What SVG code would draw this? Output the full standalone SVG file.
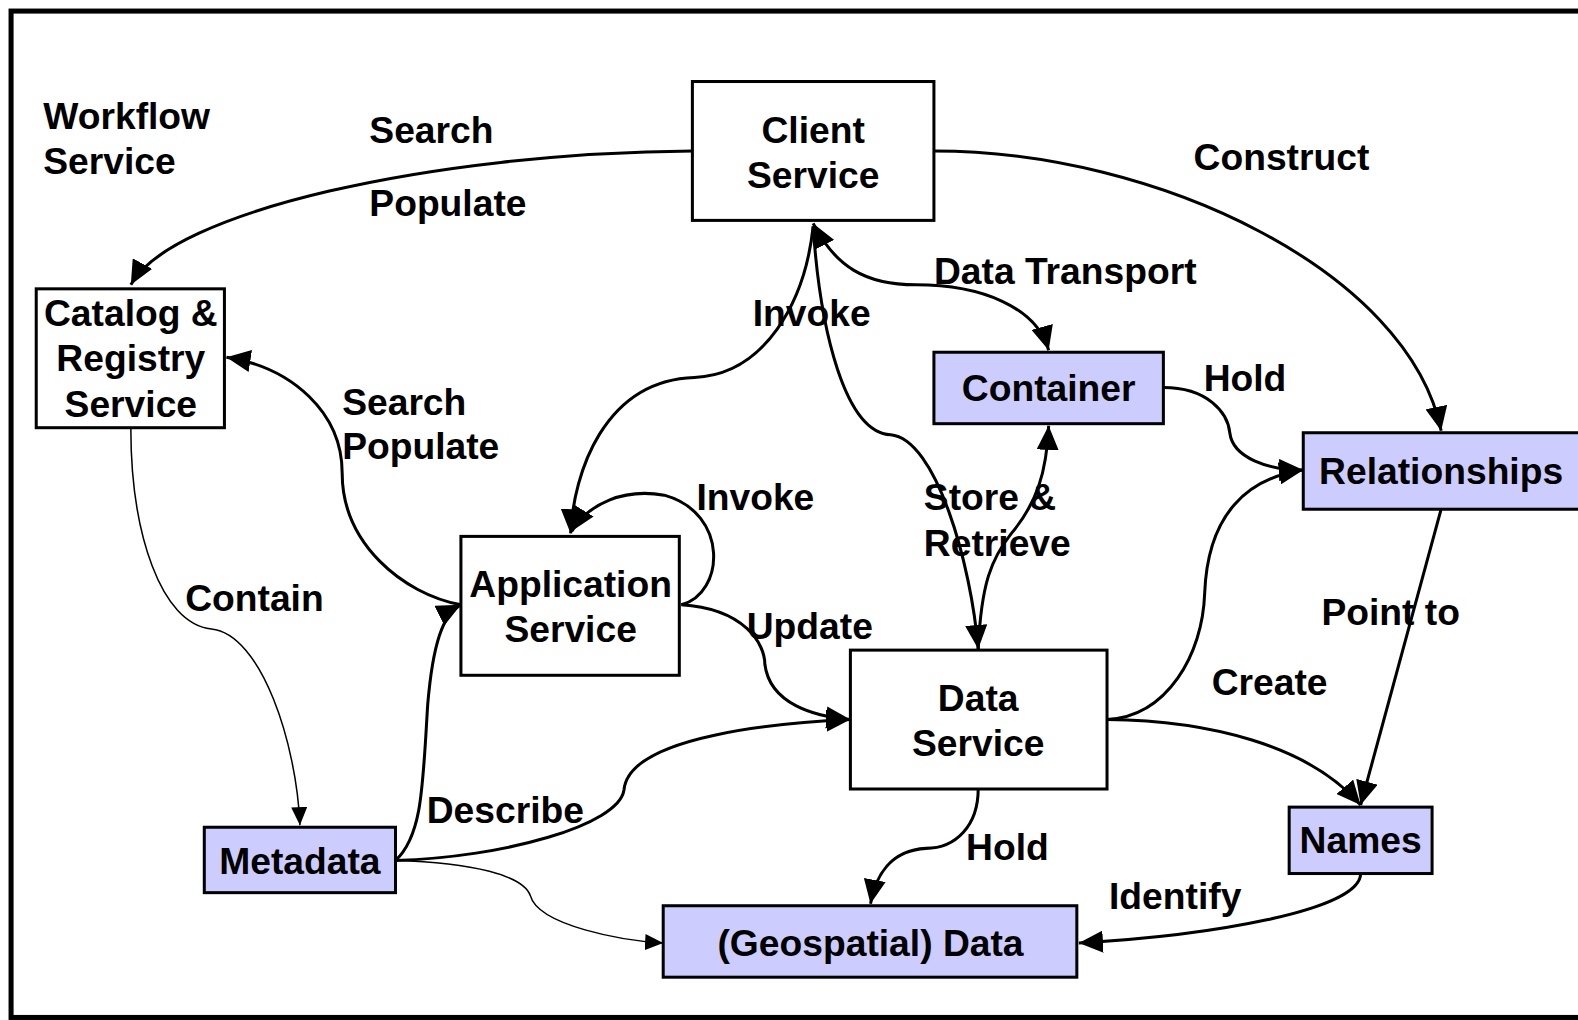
<svg xmlns="http://www.w3.org/2000/svg" width="1578" height="1020" viewBox="0 0 1578 1020">
<style>
text{font-family:"Liberation Sans",Arial,sans-serif;font-weight:bold;font-size:37px;fill:#000}
.c{text-anchor:middle}
.box{fill:#fff;stroke:#000;stroke-width:3}
.blue{fill:#ccccff;stroke:#000;stroke-width:3}
.e{fill:none;stroke:#000;stroke-width:3}
.t{fill:none;stroke:#000;stroke-width:1.5}
</style>
<defs>
<marker id="a" markerUnits="userSpaceOnUse" markerWidth="26" markerHeight="22" refX="24" refY="11" orient="auto"><path d="M0,0 L24,11 L0,22 z" fill="#000"/></marker>
<marker id="as" markerUnits="userSpaceOnUse" markerWidth="26" markerHeight="22" refX="24" refY="11" orient="auto-start-reverse"><path d="M0,0 L24,11 L0,22 z" fill="#000"/></marker>
<marker id="b" markerUnits="userSpaceOnUse" markerWidth="20" markerHeight="16" refX="18" refY="8" orient="auto"><path d="M0,0 L18,8 L0,16 z" fill="#000"/></marker>
</defs>
<rect width="1578" height="1020" fill="#fff"/>
<g transform="scale(1.00638)">
<rect x="11" y="11" width="1600" height="1000" fill="none" stroke="#000" stroke-width="5"/>
<g id="connectors">
<path class="e" d="M688,150 C430,152 170,210 130,283" marker-end="url(#a)"/>
<path class="e" d="M928,150 C1150,150 1400,270 1432,428" marker-end="url(#a)"/>
<path class="e" d="M808,222 C830,265 860,283 910,283 C975,283 1030,305 1042,348" marker-start="url(#as)" marker-end="url(#a)"/>
<path class="e" d="M808,225 C800,300 760,372 690,375 C600,378 570,470 567,530" marker-end="url(#a)"/>
<path class="e" d="M808,225 C815,330 840,430 885,432 C930,436 965,560 972,645" marker-end="url(#a)"/>
<path class="e" d="M972,645 C975,580 985,555 1005,530 C1030,500 1040,470 1042,423" marker-end="url(#a)"/>
<path class="e" d="M1156,385 C1200,385 1220,410 1222,430 C1225,455 1260,467 1295,467" marker-end="url(#a)"/>
<path class="e" d="M458,601 C400,590 340,540 340,470 C340,410 290,365 225,355" marker-end="url(#a)"/>
<path class="t" d="M130,425 C130,530 160,620 210,625 C260,630 295,740 298,820" marker-end="url(#b)"/>
<path class="e" d="M677,601 C720,590 725,510 660,492 C620,485 585,500 568,528" marker-end="url(#a)"/>
<path class="e" d="M677,601 C740,605 760,640 760,660 C765,700 810,712 845,715" marker-end="url(#a)"/>
<path class="e" d="M393,855 C420,830 420,780 425,700 C430,640 440,610 458,601" marker-end="url(#a)"/>
<path class="e" d="M393,855 C500,852 615,820 620,785 C625,730 780,718 845,715" marker-end="url(#a)"/>
<path class="t" d="M393,855 C470,857 520,870 527,890 C535,920 620,935 659,937" marker-end="url(#b)"/>
<path class="e" d="M1100,715 C1160,712 1195,650 1197,590 C1200,510 1240,475 1295,467" marker-end="url(#a)"/>
<path class="e" d="M1100,715 C1200,716 1300,740 1352,800" marker-end="url(#a)"/>
<path class="e" d="M1432,506 L1352,800" marker-end="url(#a)"/>
<path class="e" d="M972,784 C972,820 950,843 920,843 C885,845 870,870 865,898" marker-end="url(#a)"/>
<path class="e" d="M1352,868 C1352,905 1200,930 1072,937" marker-end="url(#a)"/>
</g>
<g id="workflow"><text x="43" y="128">Workflow</text><text x="43" y="173">Service</text></g>
<g id="client"><rect class="box" x="688" y="81" width="240" height="138"/><text class="c" x="808" y="142">Client</text><text class="c" x="808" y="187">Service</text></g>
<g id="catalog"><rect class="box" x="36" y="287" width="187" height="138"/><text class="c" x="130" y="324">Catalog &amp;</text><text class="c" x="130" y="369">Registry</text><text class="c" x="130" y="414">Service</text></g>
<g id="container"><rect class="blue" x="928" y="350" width="228" height="71"/><text class="c" x="1042" y="398">Container</text></g>
<g id="relationships"><rect class="blue" x="1295" y="430" width="290" height="76"/><text class="c" x="1432" y="481">Relationships</text></g>
<g id="application"><rect class="box" x="458" y="533" width="217" height="138"/><text class="c" x="567" y="593">Application</text><text class="c" x="567" y="638">Service</text></g>
<g id="dataservice"><rect class="box" x="845" y="646" width="255" height="138"/><text class="c" x="972" y="706">Data</text><text class="c" x="972" y="751">Service</text></g>
<g id="metadata"><rect class="blue" x="203" y="822" width="190" height="65"/><text class="c" x="298" y="868">Metadata</text></g>
<g id="names"><rect class="blue" x="1281" y="802" width="142" height="66"/><text class="c" x="1352" y="848">Names</text></g>
<g id="geodata"><rect class="blue" x="659" y="900" width="411" height="71"/><text class="c" x="865" y="950">(Geospatial) Data</text></g>
<g id="labels">
<text x="367" y="142">Search</text>
<text x="367" y="215">Populate</text>
<text x="1186" y="169">Construct</text>
<text x="928" y="282">Data Transport</text>
<text x="748" y="324">Invoke</text>
<text x="1196" y="389">Hold</text>
<text x="340" y="412">Search</text>
<text x="340" y="456">Populate</text>
<text x="692" y="507">Invoke</text>
<text x="918" y="507">Store &amp;</text>
<text x="918" y="552">Retrieve</text>
<text x="184" y="607">Contain</text>
<text x="742" y="635">Update</text>
<text x="1313" y="621">Point to</text>
<text x="1204" y="691">Create</text>
<text x="424" y="818">Describe</text>
<text x="960" y="855">Hold</text>
<text x="1102" y="903">Identify</text>
</g>
</g>
</svg>
